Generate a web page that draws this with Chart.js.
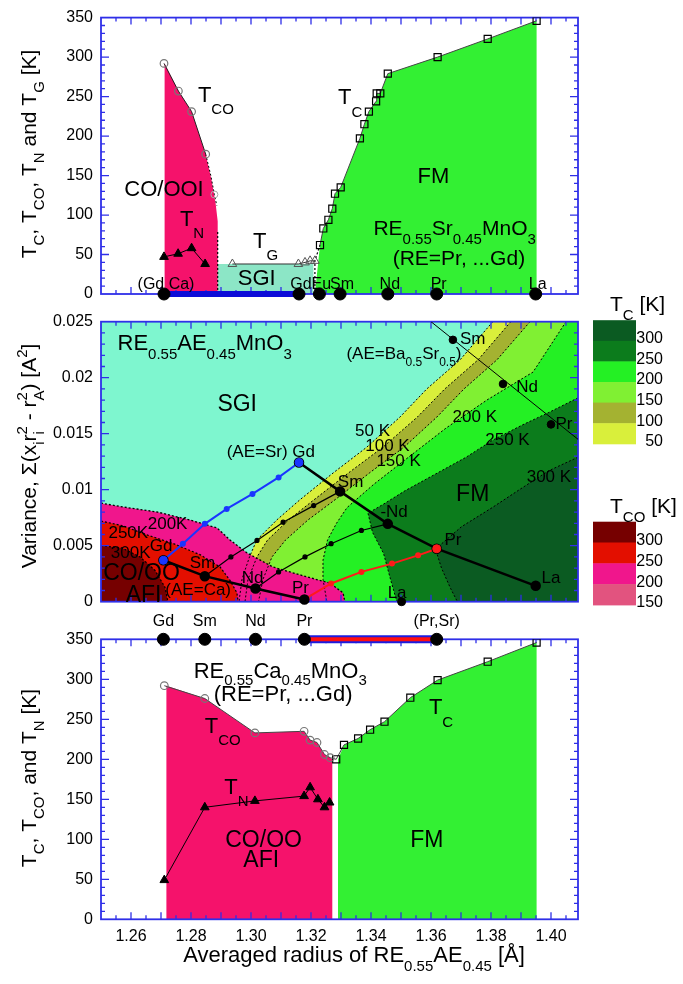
<!DOCTYPE html>
<html>
<head>
<meta charset="utf-8">
<script src="https://cdn.jsdelivr.net/npm/chart.js@4.4.1/dist/chart.umd.min.js"></script>
<style>
html, body { margin: 0; padding: 0; background: #fff; }
#wrap { position: relative; width: 683px; height: 984px; }
#wrap canvas { position: absolute; left: 0; top: 0; }
</style>
</head>
<body>
<div id="wrap">
  <canvas id="cTop" width="683" height="984"></canvas>
  <canvas id="cMid" width="683" height="984"></canvas>
  <canvas id="cBot" width="683" height="984"></canvas>
</div>
<script>
// ---------- shared axes ----------
const radiusRange = [1.25, 1.409];
const radiusTicks = [1.26, 1.28, 1.30, 1.32, 1.34, 1.36, 1.38, 1.40];
const tempTicks = [0, 50, 100, 150, 200, 250, 300, 350];
const varTicks = [0, 0.005, 0.01, 0.015, 0.02, 0.025];

// ---------- upper panel: RE0.55Sr0.45MnO3 and (Gd,Ca) ----------
const upTcR = [1.323, 1.3241, 1.3258, 1.3271, 1.328, 1.3299, 1.3363, 1.3378, 1.3393, 1.3417, 1.3419, 1.3431, 1.3456, 1.3622, 1.3789, 1.3952];
const upTcK = [62, 83, 94, 108, 127, 135, 197, 215, 231, 244, 254, 254, 279, 300, 323, 346];
const upFmFootR = 1.3213;
const upTcoR = [1.271, 1.2758, 1.2802, 1.2849];
const upTcoK = [292, 257, 231, 177];
const upTcoTailR = [1.2849, 1.2866, 1.2878, 1.2886];
const upTcoTailK = [177, 150, 126, 112];
const upCoEdgeR = [1.2712, 1.2889];
const upCoCurveR = [1.2868, 1.2882, 1.2889];
const upCoCurveK = [145, 115, 92];
const upTnR = [1.271, 1.2757, 1.2802, 1.2847];
const upTnK = [47, 51, 58, 38];
const upTgR = [1.2938, 1.3158, 1.318, 1.3197, 1.3213];
const upTgK = [38, 38, 40, 42, 42];
const upSgiR = [1.2889, 1.3208];
const upSgiK = 38;
const upSampleNames = ['(Gd Ca)', 'Gd', 'Eu', 'Sm', 'Nd', 'Pr', 'La'];
const upSampleR = [1.271, 1.316, 1.3228, 1.3297, 1.3456, 1.3619, 1.3949];

// ---------- middle panel: variance map ----------
const midSrNames = ['Gd', 'Sm', 'Nd', 'Pr', 'La'];
const midSrR = [1.316, 1.3297, 1.3456, 1.3619, 1.3949];
const midSrVar = [0.01243, 0.00985, 0.00695, 0.00473, 0.00142];
const midCaR = [1.2708, 1.2846, 1.3015, 1.3178];
const midCaVar = [0.0037, 0.00228, 0.00118, 0.0002];
const midLaCaR = [1.3502];
const midLaCaVar = [0];
const midBaR = [1.3673, 1.384, 1.40];
const midBaVar = [0.02338, 0.01944, 0.01583];
const midBaGuideR = [1.36, 1.409];
const midBaGuideVar = [0.025, 0.0145];
const mixGdR = [1.2708, 1.2773, 1.2846, 1.2919, 1.3005, 1.3092, 1.316];
const mixGdVar = [0.0037, 0.00518, 0.00695, 0.00828, 0.00962, 0.0111, 0.01243];
const mixSmR = [1.2846, 1.2933, 1.302, 1.3107, 1.3209, 1.3297];
const mixSmVar = [0.00228, 0.004, 0.00547, 0.0071, 0.00858, 0.00985];
const mixNdR = [1.3015, 1.3092, 1.318, 1.3267, 1.3368, 1.3456];
const mixNdVar = [0.00118, 0.00266, 0.004, 0.00518, 0.00636, 0.00695];
const mixPrR = [1.3178, 1.3267, 1.3368, 1.347, 1.3557, 1.3619];
const mixPrVar = [0.0002, 0.00163, 0.00266, 0.0034, 0.00414, 0.00473];

// Tc contour lines (K)
const bandV = [0.025, 0.0216, 0.0190, 0.0165, 0.0138, 0.0115, 0.0091, 0.0073, 0.0055, 0.0040, 0.0020, 0];
const tc50R = [1.3806, 1.3697, 1.3586, 1.3497, 1.3386, 1.3274, 1.3163, 1.3086, 1.3019, 1.2995, 1.297, 1.296];
const tc100R = [1.3866, 1.3757, 1.3646, 1.3555, 1.344, 1.3325, 1.321, 1.3125, 1.3055, 1.302, 1.299, 1.298];
const tc150R = [1.393, 1.382, 1.371, 1.362, 1.351, 1.3395, 1.328, 1.319, 1.3115, 1.307, 1.304, 1.3025];
const tc200R = [1.405, 1.394, 1.3786, 1.365, 1.352, 1.341, 1.332, 1.3285, 1.3255, 1.324, 1.324, 1.3253];
const tc200V = [0.025, 0.0205, 0.018, 0.0155, 0.0128, 0.0105, 0.0084, 0.007, 0.0055, 0.0037, 0.002, 0];
const tc250R = [1.409, 1.3993, 1.3906, 1.3804, 1.3717, 1.3615, 1.3513, 1.3441, 1.339, 1.3405, 1.3442, 1.3465, 1.3486];
const tc250V = [0.0182, 0.0169, 0.0158, 0.0144, 0.0129, 0.0114, 0.0099, 0.0087, 0.0079, 0.0062, 0.0043, 0.002, 0];
const tc300R = [1.409, 1.3993, 1.3906, 1.3804, 1.3702, 1.3615, 1.3635, 1.3665, 1.3688];
const tc300V = [0.0129, 0.0117, 0.0102, 0.0084, 0.0067, 0.0047, 0.003, 0.0012, 0];
// Tco contour lines (K)
const tco200R = [1.25, 1.2573, 1.2687, 1.2797, 1.2887, 1.293, 1.2987, 1.3073, 1.3187, 1.3263, 1.3307, 1.3313];
const tco200V = [0.0088, 0.00846, 0.00801, 0.00729, 0.00658, 0.00551, 0.00435, 0.0031, 0.00221, 0.00167, 0.00078, 0];
const tco250R = [1.25, 1.257, 1.266, 1.274, 1.283, 1.2897, 1.293, 1.2953, 1.2957];
const tco250V = [0.0072, 0.0068, 0.0059, 0.0052, 0.0042, 0.0031, 0.0019, 0.0008, 0];
const tco300R = [1.25, 1.257, 1.263, 1.268, 1.2713, 1.2723];
const tco300V = [0.0050, 0.0048, 0.0040, 0.0028, 0.0013, 0];

const tcBarLabels = ['300', '250', '200', '150', '100', '50'];
const tcoBarLabels = ['300', '250', '200', '150'];

// ---------- lower panel: RE0.55Ca0.45MnO3 ----------
const botTcoR = [1.2711, 1.2846, 1.3013, 1.3177, 1.3197, 1.322, 1.3245, 1.3264];
const botTcoK = [292, 276, 233, 235, 224, 221, 206, 202];
const botTcR = [1.3284, 1.331, 1.3357, 1.3397, 1.3445, 1.3531, 1.3622, 1.3789, 1.3952];
const botTcK = [200, 218, 226, 237, 247, 277, 299, 322, 346];
const botTnR = [1.2711, 1.2846, 1.3013, 1.3177, 1.3197, 1.3223, 1.3245, 1.3262];
const botTnK = [49, 140, 148, 154, 165, 150, 140, 146];
const botCoEdgeR = [1.2718, 1.3271];
const botFmEdgeR = 1.329;
const botSampleNames = ['Gd', 'Sm', 'Nd', 'Pr', '(Pr,Sr)'];
const botSampleR = [1.2708, 1.2846, 1.3015, 1.3178, 1.3619];

// ---------- styling ----------
const FONT = '"Liberation Sans", Arial, Helvetica, sans-serif';
const AXIS_BLUE = '#2f2fe8';
const W = 683, H = 984, PLOT_L = 101, PLOT_R = 578;
const AREAS = { top: [14, 294], mid: [321.7, 601.7], bot: [639.3, 919.3] };
const COL = {
  pink: '#f5126b', green: '#33f033', sgiTop: '#8ce6c6', sgiMid: '#7ef6cf',
  tc50: '#d9ef3b', tc100: '#a4b231', tc150: '#80f033', tc200: '#24f024', tc250: '#0c7c1c', tc300: '#0b5b22',
  tco150: '#e2537f', tco200: '#f0168c', tco250: '#e30f00', tco300: '#760000',
  blue: '#1a35ff', red: '#ff1a1a'
};

Chart.defaults.font.family = FONT;
Chart.defaults.color = '#000';

const P = (xs, ys) => xs.map((x, i) => ({ x, y: Array.isArray(ys) ? ys[i] : ys }));
const poly = (data, color, order) => ({ data, fill: 'shape', backgroundColor: color, borderWidth: 0, pointRadius: 0, order });
const line = (data, o) => Object.assign({ data, fill: false, borderColor: '#000', borderWidth: 1, pointRadius: 0, order: 30 }, o);

// ---------- rich text (sub/superscripts) ----------
function parseRich(s) {
  const out = []; let buf = '', i = 0;
  while (i < s.length) {
    const c = s[i];
    if ((c === '_' || c === '^') && s[i + 1] === '{') {
      if (buf) { out.push({ t: buf, k: '' }); buf = ''; }
      const j = s.indexOf('}', i);
      out.push({ t: s.slice(i + 2, j), k: c === '_' ? 'sub' : 'sup' });
      i = j + 1;
    } else { buf += c; i++; }
  }
  if (buf) out.push({ t: buf, k: '' });
  return out;
}
function drawRich(ctx, str, x, y, size, align, color, subShift) {
  const segs = parseRich(str);
  const small = Math.round(size * 0.7);
  let total = 0, prev = null;
  segs.forEach(s => {
    s.fs = s.k ? small : size;
    ctx.font = s.fs + 'px ' + FONT;
    s.w = ctx.measureText(s.t).width;
    if (prev && prev.k === 'sub' && s.k === 'sup') { s.x0 = prev.x0; total = prev.x0 + Math.max(prev.w, s.w); }
    else { s.x0 = total; total += s.w; }
    prev = s;
  });
  const start = align === 'center' ? x - total / 2 : align === 'right' ? x - total : x;
  ctx.save();
  ctx.fillStyle = color || '#000';
  ctx.textAlign = 'left';
  ctx.textBaseline = 'alphabetic';
  segs.forEach(s => {
    ctx.font = s.fs + 'px ' + FONT;
    const dy = s.k === 'sub' ? size * (subShift || 0.4) : s.k === 'sup' ? -size * 0.42 : 0;
    ctx.fillText(s.t, start + s.x0, y + dy);
  });
  ctx.restore();
}

// ---------- frame, inward ticks, annotations ----------
const DECOR = {};
function drawFrame(chart, d) {
  const { ctx, chartArea: a } = chart;
  const xs = chart.scales.x, ys = chart.scales.y;
  ctx.save();
  ctx.strokeStyle = AXIS_BLUE;
  ctx.lineWidth = 1.3;
  ctx.beginPath();
  for (let k = 251; k <= 281; k++) {
    const px = xs.getPixelForValue(k / 200);
    const len = k % 2 === 0 ? 7 : 4;
    ctx.moveTo(px, a.bottom); ctx.lineTo(px, a.bottom - len);
    ctx.moveTo(px, a.top); ctx.lineTo(px, a.top + len);
  }
  const n = Math.round((ys.max - ys.min) / d.yMinor);
  for (let i = 1; i < n; i++) {
    const py = ys.getPixelForValue(ys.min + i * d.yMinor);
    const len = i % d.yEvery === 0 ? 8 : 4;
    ctx.moveTo(a.left, py); ctx.lineTo(a.left + len, py);
    ctx.moveTo(a.right, py); ctx.lineTo(a.right - len, py);
  }
  ctx.stroke();
  ctx.lineWidth = 1.8;
  ctx.strokeRect(a.left, a.top, a.right - a.left, a.bottom - a.top);
  ctx.restore();
}
function drawLabel(chart, l) {
  const px = chart.scales.x.getPixelForValue(l.x) + (l.dx || 0);
  const py = chart.scales.y.getPixelForValue(l.y) + (l.dy || 0);
  drawRich(chart.ctx, l.t, px, py + l.size * 0.36, l.size, l.align || 'left', l.color, l.sub);
}
function drawVTitle(ctx, str, x, cy, size) {
  ctx.save();
  ctx.translate(x, cy);
  ctx.rotate(-Math.PI / 2);
  drawRich(ctx, str, 0, 0, size, 'center', '#000', 0.4);
  ctx.restore();
}
const decor = {
  id: 'decor',
  beforeDraw(chart) { chart.$frameDone = false; },
  beforeDatasetDraw(chart, args) {
    const ds = chart.data.datasets[args.index];
    if (!chart.$frameDone && ds.order < 50) { drawFrame(chart, DECOR[chart.canvas.id]); chart.$frameDone = true; }
  },
  afterDatasetsDraw(chart) {
    const d = DECOR[chart.canvas.id];
    if (!chart.$frameDone) { drawFrame(chart, d); chart.$frameDone = true; }
    d.labels.forEach(l => drawLabel(chart, l));
    if (d.extra) d.extra(chart);
  }
};

function makeChart(id, area, yCfg, showX, datasets, decorCfg) {
  DECOR[id] = decorCfg;
  const xBand = showX ? 30 : 0;
  return new Chart(document.getElementById(id), {
    type: 'line',
    data: { datasets },
    options: {
      responsive: false, maintainAspectRatio: false, animation: false, devicePixelRatio: 1,
      layout: { padding: { left: 0, right: W - PLOT_R, top: area[0], bottom: H - area[1] - xBand } },
      plugins: { legend: { display: false }, tooltip: { enabled: false } },
      scales: {
        x: {
          type: 'linear', min: radiusRange[0], max: radiusRange[1], display: showX,
          grid: { display: false, drawTicks: false }, border: { display: false },
          afterBuildTicks: s => { s.ticks = radiusTicks.map(v => ({ value: v })); },
          ticks: { callback: v => v.toFixed(2), padding: 8, font: { size: 16 }, color: '#000', maxRotation: 0, autoSkip: false },
          afterFit: s => { s.height = xBand; }
        },
        y: {
          type: 'linear', min: yCfg.min, max: yCfg.max,
          grid: { display: false, drawTicks: false }, border: { display: false },
          afterBuildTicks: s => { s.ticks = yCfg.ticks.map(v => ({ value: v })); },
          ticks: { callback: yCfg.fmt, padding: 8, font: { size: 16 }, color: '#000', autoSkip: false },
          afterFit: s => { s.width = PLOT_L; }
        }
      }
    },
    plugins: [decor]
  });
}

const tempAxis = { min: 0, max: 350, ticks: tempTicks, fmt: v => String(v) };
const varAxis = { min: 0, max: 0.025, ticks: varTicks, fmt: v => String(+v.toFixed(3)) };
const dot = (data, r, o) => line(data, Object.assign({ showLine: false, pointRadius: r, pointBackgroundColor: '#000', pointBorderColor: '#000', clip: false, order: 5 }, o));

// ================= upper panel =================
const upCoFill = [{ x: upCoEdgeR[0], y: 0 }, { x: upCoEdgeR[0], y: upTcoK[0] }, ...P(upTcoR, upTcoK).slice(1), ...P(upCoCurveR, upCoCurveK), { x: upCoEdgeR[1], y: 0 }];
const upFmFill = [{ x: upFmFootR, y: 0 }, ...P(upTcR, upTcK), { x: upTcR[upTcR.length - 1], y: 0 }];
const upSgiFill = [{ x: upSgiR[0], y: 0 }, { x: upSgiR[0], y: upSgiK }, { x: upSgiR[1], y: upSgiK }, { x: upSgiR[1], y: 0 }];

makeChart('cTop', AREAS.top, tempAxis, false, [
  poly(upCoFill, COL.pink, 100),
  poly(upSgiFill, COL.sgiTop, 100),
  poly(upFmFill, COL.green, 100),
  line(P(upTcoTailR, upTcoTailK), { borderDash: [2, 2], pointRadius: [0, 0, 3.5, 0], pointStyle: 'circle', pointBorderColor: '#aaa', pointBackgroundColor: 'rgba(0,0,0,0)', order: 30 }),
  line([{ x: upCoEdgeR[1], y: 0 }, { x: upCoEdgeR[1], y: 80 }], { borderDash: [2, 2], borderWidth: 1.2, order: 30 }),
  line([{ x: upFmFootR, y: 0 }, { x: upFmFootR, y: upTgK[upTgK.length - 1] }, { x: upTcR[0], y: upTcK[0] }], { borderDash: [2, 2], borderWidth: 1.2, order: 30 }),
  line(P(upTcoR, upTcoK), { borderColor: '#222', pointRadius: 3.8, pointStyle: 'circle', pointBorderColor: '#777', pointBackgroundColor: 'rgba(0,0,0,0)', pointBorderWidth: 1.2, order: 20 }),
  line(P(upTnR, upTnK), { pointRadius: 5, pointStyle: 'triangle', pointBackgroundColor: '#000', pointBorderColor: '#000', order: 20 }),
  line(P(upTgR, upTgK), { borderColor: '#333', pointRadius: 5, pointStyle: 'triangle', pointBackgroundColor: 'rgba(0,0,0,0)', pointBorderColor: '#555', order: 20 }),
  line(P(upTcR, upTcK), { borderColor: '#444', pointRadius: 5, pointStyle: 'rect', pointBackgroundColor: 'rgba(0,0,0,0)', pointBorderColor: '#000', pointBorderWidth: 1.2, order: 20 }),
  line(P([upSampleR[0], upSampleR[1]], 0), { borderColor: '#0c0cd8', borderWidth: 6, clip: false, order: 8, borderCapStyle: 'butt' }),
  dot(P(upSampleR, 0), 6)
], {
  yMinor: 10, yEvery: 5,
  labels: [
    { x: 1.2823, y: 253, t: 'T_{CO}', size: 22, sub: 0.55 },
    { x: 1.271, y: 134, t: 'CO/OOI', size: 22, align: 'center' },
    { x: 1.2763, y: 96, t: 'T_{N}', size: 22, sub: 0.55 },
    { x: 1.3007, y: 68, t: 'T_{G}', size: 22, sub: 0.55 },
    { x: 1.3019, y: 21, t: 'SGI', size: 22, align: 'center' },
    { x: 1.329, y: 250, t: 'T_{C}', size: 22, sub: 0.55 },
    { x: 1.3608, y: 151, t: 'FM', size: 22, align: 'center' },
    { x: 1.3408, y: 84, t: 'RE_{0.55}Sr_{0.45}MnO_{3}', size: 21 },
    { x: 1.3693, y: 46, t: '(RE=Pr, ...Gd)', size: 21, align: 'center' },
    ...upSampleNames.map((t, i) => ({ x: upSampleR[i], y: 0, dy: -11, dx: 2, t, size: 16, align: 'center' }))
  ],
  extra(chart) {
    drawVTitle(chart.ctx, 'T_{C}, T_{CO}, T_{N} and T_{G} [K]', 36, 154, 21);
  }
});

// ================= middle panel =================
const rightEdge = [{ x: radiusRange[1], y: 0 }, { x: radiusRange[1], y: 0.025 }];
const leftFoot = [{ x: radiusRange[0], y: 0 }];
const midBackground = [{ x: radiusRange[0], y: 0 }, { x: radiusRange[0], y: 0.025 }, { x: radiusRange[1], y: 0.025 }, { x: radiusRange[1], y: 0 }];
const contour = (data) => line(data, { borderDash: [2, 2], borderWidth: 1, order: 60 });

makeChart('cMid', AREAS.mid, varAxis, false, [
  poly(midBackground, COL.sgiMid, 200),
  poly([...P(tc50R, bandV), ...rightEdge], COL.tc50, 190),
  poly([...P(tc100R, bandV), ...rightEdge], COL.tc100, 180),
  poly([...P(tc150R, bandV), ...rightEdge], COL.tc150, 170),
  poly([...P(tc200R, tc200V), ...rightEdge], COL.tc200, 160),
  poly([...P(tc250R, tc250V), { x: radiusRange[1], y: 0 }], COL.tc250, 150),
  poly([...P(tc300R, tc300V), { x: radiusRange[1], y: 0 }], COL.tc300, 140),
  contour(P(tc50R, bandV)), contour(P(tc100R, bandV)), contour(P(tc150R, bandV)),
  contour(P(tc200R, tc200V)), contour(P(tc250R, tc250V)), contour(P(tc300R, tc300V)),
  poly([...P(tco200R, tco200V), ...leftFoot], COL.tco200, 95),
  poly([...P(tco250R, tco250V), ...leftFoot], COL.tco250, 94),
  poly([...P(tco300R, tco300V), ...leftFoot], COL.tco300, 93),
  line(P(tco200R, tco200V), { borderDash: [2, 2], borderWidth: 1.3, order: 55 }),
  line(P(tco250R, tco250V), { borderDash: [2, 2], borderWidth: 1.2, order: 55 }),
  line(P(tco300R, tco300V), { borderDash: [2, 2], borderWidth: 1.2, order: 55 }),
  line(P(midBaGuideR, midBaGuideVar), { borderWidth: 1, order: 40 }),
  dot(P(midBaR, midBaVar), 3.8, { order: 12 }),
  line(P(mixGdR, mixGdVar), { borderColor: COL.blue, borderWidth: 2, pointRadius: 2, pointBackgroundColor: COL.blue, pointBorderColor: COL.blue, order: 25 }),
  line(P(mixSmR, mixSmVar), { borderWidth: 1.2, pointRadius: 2, pointBackgroundColor: '#000', order: 25 }),
  line(P(mixNdR, mixNdVar), { borderWidth: 1.2, pointRadius: 2, pointBackgroundColor: '#000', order: 25 }),
  line(P(mixPrR, mixPrVar), { borderColor: COL.red, borderWidth: 2, pointRadius: 2, pointBackgroundColor: COL.red, pointBorderColor: COL.red, order: 25 }),
  line(P(midSrR, midSrVar), { borderWidth: 2.5, pointRadius: 4, pointBackgroundColor: '#000', order: 15 }),
  line(P(midCaR, midCaVar), { borderWidth: 2.5, pointRadius: 4, pointBackgroundColor: '#000', order: 15, clip: false }),
  dot(P([midSrR[0]], [midSrVar[0]]), 4, { pointBackgroundColor: COL.blue, pointBorderColor: COL.blue, order: 10 }),
  dot(P([midCaR[0]], [midCaVar[0]]), 4, { pointBackgroundColor: COL.blue, pointBorderColor: COL.blue, order: 10 }),
  dot(P([midSrR[3]], [midSrVar[3]]), 4, { pointBackgroundColor: COL.red, pointBorderColor: COL.red, order: 10 }),
  dot(P(midLaCaR, midLaCaVar), 4, { order: 10 })
], {
  yMinor: 0.001, yEvery: 5,
  labels: [
    { x: 1.2555, y: 0.0232, t: 'RE_{0.55}AE_{0.45}MnO_{3}', size: 22 },
    { x: 1.3318, y: 0.0222, t: '(AE=Ba_{0.5}Sr_{0.5})', size: 17 },
    { x: 1.2954, y: 0.01775, t: 'SGI', size: 23, align: 'center' },
    { x: 1.3066, y: 0.01346, t: '(AE=Sr) Gd', size: 17, align: 'center' },
    { x: 1.3332, y: 0.0108, t: 'Sm', size: 17, align: 'center' },
    { x: 1.3477, y: 0.00814, t: '-Nd', size: 17, align: 'center' },
    { x: 1.3673, y: 0.00562, t: 'Pr', size: 17, align: 'center' },
    { x: 1.4, y: 0.00222, t: 'La', size: 17, align: 'center' },
    { x: 1.3739, y: 0.00976, t: 'FM', size: 23, align: 'center' },
    { x: 1.27, y: 0.00503, t: 'Gd', size: 17, align: 'center' },
    { x: 1.2838, y: 0.00355, t: 'Sm', size: 17, align: 'center' },
    { x: 1.3005, y: 0.00222, t: 'Nd', size: 17, align: 'center' },
    { x: 1.3165, y: 0.00133, t: 'Pr', size: 17, align: 'center' },
    { x: 1.2824, y: 0.00118, t: '(AE=Ca)', size: 17, align: 'center' },
    { x: 1.3487, y: 0.00089, t: 'La', size: 17, align: 'center' },
    { x: 1.2635, y: 0.00266, t: 'CO/OO', size: 23, align: 'center' },
    { x: 1.2642, y: 0.00074, t: 'AFI', size: 23, align: 'center' },
    { x: 1.2722, y: 0.00701, t: '200K', size: 17, align: 'center' },
    { x: 1.2591, y: 0.00621, t: '250K', size: 17, align: 'center' },
    { x: 1.2599, y: 0.00444, t: '300K', size: 17, align: 'center' },
    { x: 1.3405, y: 0.0153, t: '50 K', size: 17, align: 'center' },
    { x: 1.3455, y: 0.0140, t: '100 K', size: 17, align: 'center' },
    { x: 1.3492, y: 0.0127, t: '150 K', size: 17, align: 'center' },
    { x: 1.3746, y: 0.01657, t: '200 K', size: 17, align: 'center' },
    { x: 1.3855, y: 0.0145, t: '250 K', size: 17, align: 'center' },
    { x: 1.3993, y: 0.01125, t: '300 K', size: 17, align: 'center' },
    { x: 1.3739, y: 0.02352, t: 'Sm', size: 17, align: 'center' },
    { x: 1.392, y: 0.01923, t: 'Nd', size: 17, align: 'center' },
    { x: 1.4043, y: 0.016, t: 'Pr', size: 17, align: 'center' }
  ],
  extra(chart) {
    const ctx = chart.ctx, a = chart.chartArea;
    drawVTitle(ctx, 'Variance, \u03A3(x_{i}r_{i}^{2} - r_{A}^{2}) [A^{2}]', 36, 456, 21);
    // colour scales
    const barX = 593, barW = 43;
    const tcCols = [COL.tc300, COL.tc250, COL.tc200, COL.tc150, COL.tc100, COL.tc50];
    const tcoCols = [COL.tco300, COL.tco250, COL.tco200, COL.tco150];
    const drawBar = (top, rowH, cols, labels) => {
      cols.forEach((c, i) => { ctx.fillStyle = c; ctx.fillRect(barX, top + i * rowH, barW, rowH + 0.5); });
      ctx.save();
      ctx.font = '16px ' + FONT; ctx.fillStyle = '#000'; ctx.textAlign = 'right'; ctx.textBaseline = 'middle';
      labels.forEach((t, i) => ctx.fillText(t, 663, top + (i + 1) * rowH - 2));
      ctx.restore();
    };
    drawBar(a.top - 1.5, 20.6, tcCols, tcBarLabels);
    drawBar(a.top + 200, 20.8, tcoCols, tcoBarLabels);
    drawRich(ctx, 'T_{C} [K]', 610, a.top - 11, 21, 'left', '#000', 0.45);
    drawRich(ctx, 'T_{CO} [K]', 610, a.top + 191, 21, 'left', '#000', 0.45);
  }
});

// ================= lower panel =================
const botCoFill = [{ x: botCoEdgeR[0], y: 0 }, { x: botCoEdgeR[0], y: botTcoK[0] }, ...P(botTcoR, botTcoK).slice(1), { x: botCoEdgeR[1], y: botTcK[0] }, { x: botCoEdgeR[1], y: 0 }];
const botFmFill = [{ x: botFmEdgeR, y: 0 }, { x: botFmEdgeR, y: botTcK[0] }, ...P(botTcR, botTcK).slice(1), { x: botTcR[botTcR.length - 1], y: 0 }];

makeChart('cBot', AREAS.bot, tempAxis, true, [
  poly(botCoFill, COL.pink, 100),
  poly(botFmFill, COL.green, 100),
  line([...P(botTcoR, botTcoK), { x: botTcR[0], y: botTcK[0] }], { borderColor: '#444', pointRadius: [3.8, 3.8, 3.8, 3.8, 3.8, 3.8, 3.8, 3.8, 0], pointStyle: 'circle', pointBorderColor: '#777', pointBackgroundColor: 'rgba(0,0,0,0)', pointBorderWidth: 1.2, order: 20 }),
  line(P(botTcR, botTcK), { borderColor: '#444', pointRadius: 5, pointStyle: 'rect', pointBackgroundColor: 'rgba(0,0,0,0)', pointBorderColor: '#000', pointBorderWidth: 1.2, order: 20 }),
  line(P(botTnR, botTnK), { pointRadius: 5, pointStyle: 'triangle', pointBackgroundColor: '#000', pointBorderColor: '#000', order: 20 }),
  line(P([botSampleR[3], botSampleR[4]], 350), { borderColor: '#1c1ce0', borderWidth: 8, clip: false, order: 9, borderCapStyle: 'butt' }),
  line(P([botSampleR[3], botSampleR[4]], 350), { borderColor: '#ff1010', borderWidth: 4, clip: false, order: 8, borderCapStyle: 'butt' }),
  dot(P(botSampleR, 350), 6)
], {
  yMinor: 10, yEvery: 5,
  labels: [
    { x: 1.2809, y: 312, t: 'RE_{0.55}Ca_{0.45}MnO_{3}', size: 22, sub: 0.33 },
    { x: 1.3107, y: 283, t: '(RE=Pr, ...Gd)', size: 22, align: 'center' },
    { x: 1.2846, y: 243, t: 'T_{CO}', size: 22, sub: 0.55 },
    { x: 1.2911, y: 167, t: 'T_{N}', size: 22, sub: 0.55 },
    { x: 1.3593, y: 266, t: 'T_{C}', size: 22, sub: 0.55 },
    { x: 1.3042, y: 101, t: 'CO/OO', size: 23, align: 'center' },
    { x: 1.3034, y: 76, t: 'AFI', size: 23, align: 'center' },
    { x: 1.3586, y: 101, t: 'FM', size: 23, align: 'center' },
    ...botSampleNames.map((t, i) => ({ x: botSampleR[i], y: 350, dy: -19, t, size: 16, align: 'center' }))
  ],
  extra(chart) {
    drawVTitle(chart.ctx, 'T_{C}, T_{CO}, and T_{N} [K]', 36, 778, 21);
    drawRich(chart.ctx, 'Averaged radius of RE_{0.55}AE_{0.45} [\u00C5]', 354, 962, 22, 'center', '#000', 0.4);
  }
});
</script>
</body>
</html>
